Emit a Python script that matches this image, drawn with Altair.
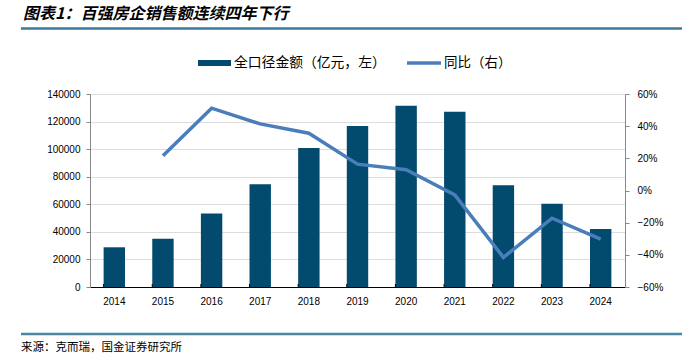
import altair as alt
import pandas as pd

years = ["2014", "2015", "2016", "2017", "2018", "2019", "2020", "2021", "2022", "2023", "2024"]
amount = [28800, 35000, 53400, 74500, 100800, 116800, 131500, 127200, 73800, 60400, 42100]
yoy = [None, 0.216, 0.512, 0.414, 0.356, 0.164, 0.129, -0.027, -0.416, -0.172, -0.302]

title_text = "图表1：百强房企销售额连续四年下行"
legend_bar = "全口径金额（亿元，左）"
legend_line = "同比（右）"
source_text = "来源：克而瑞，国金证券研究所"

BAR_COLOR = "#024A6E"
LINE_COLOR = "#4A7EBB"
CJK = "Noto Sans CJK SC"

df = pd.DataFrame({"year": years, "amount": amount, "yoy": yoy})

W, H = 535, 193
L, T = 90, 94

x_enc = alt.X("year:N", title=None, sort=years,
              scale=alt.Scale(paddingInner=0.56, paddingOuter=0.28),
              axis=alt.Axis(ticks=False, labelPadding=9, labelAngle=0, domainColor="black"))

bars = alt.Chart(df).mark_bar(color=BAR_COLOR).encode(
    x=x_enc,
    y=alt.Y("amount:Q", title=None,
            scale=alt.Scale(domain=[0, 140000], nice=False),
            axis=alt.Axis(orient="left", values=list(range(0, 140001, 20000)), format="d",
                          tickSize=4, labelPadding=6)),
)

line = alt.Chart(df).mark_line(color=LINE_COLOR, strokeWidth=3.5).encode(
    x=alt.X("year:N", sort=years),
    y=alt.Y("yoy:Q", title=None,
            scale=alt.Scale(domain=[-0.6, 0.6], nice=False),
            axis=alt.Axis(orient="right", values=[-0.6, -0.4, -0.2, 0, 0.2, 0.4, 0.6], format=".0%",
                          tickSize=4, labelPadding=8)),
)

xticks = alt.Chart(df).mark_rule(color="black", strokeWidth=1).encode(
    x=alt.X("year:N", sort=years, bandPosition=0),
    y=alt.value(H - 3), y2=alt.value(H),
)

one = pd.DataFrame({"a": [0]})

def txt(s, x, y, size, font=CJK, weight="normal", style="normal", color="black"):
    return alt.Chart(one).mark_text(text=s, align="left", baseline="middle", font=font,
                                    fontSize=size, fontWeight=weight, fontStyle=style,
                                    color=color).encode(x=alt.value(x), y=alt.value(y))

def hrule(x1, x2, y, color, w):
    return alt.Chart(one).mark_rule(color=color, strokeWidth=w).encode(
        x=alt.value(x1), x2=alt.value(x2), y=alt.value(y))

title = txt(title_text, 23 - L, 14 - T, 16, weight="bold", style="italic")
head_line = hrule(21 - L, 682 - L, 28.5 - T, "#3D789F", 2.5)
foot_line = hrule(21 - L, 682 - L, 334 - T, "#4A87A2", 2.5)
source = txt(source_text, 21 - L, 348 - T, 11.5)

leg_bar_sw = alt.Chart(one).mark_rect(color=BAR_COLOR).encode(
    x=alt.value(198 - L), x2=alt.value(231 - L), y=alt.value(60 - T), y2=alt.value(66 - T))
leg_bar_tx = txt(legend_bar, 234 - L, 63 - T, 13.8)
leg_line_sw = hrule(407 - L, 441 - L, 63 - T, LINE_COLOR, 3.5)
leg_line_tx = txt(legend_line, 444 - L, 63 - T, 13.5)

chart = alt.layer(
    bars, line, xticks, title, head_line, foot_line, source,
    leg_bar_sw, leg_bar_tx, leg_line_sw, leg_line_tx
).resolve_scale(y="independent").properties(
    width=W, height=H,
    autosize=alt.AutoSizeParams(type="none"),
    padding={"left": L, "top": T, "right": 692 - L - W, "bottom": 355 - T - H},
).configure_view(stroke=None).configure_axis(
    grid=False, domainColor="black", tickColor="black", labelColor="black",
    labelFont="Liberation Sans", labelFontSize=12, domainWidth=1,
).configure(background="white")

chart.save("out.html", embed_options={"renderer": "svg", "actions": False})
